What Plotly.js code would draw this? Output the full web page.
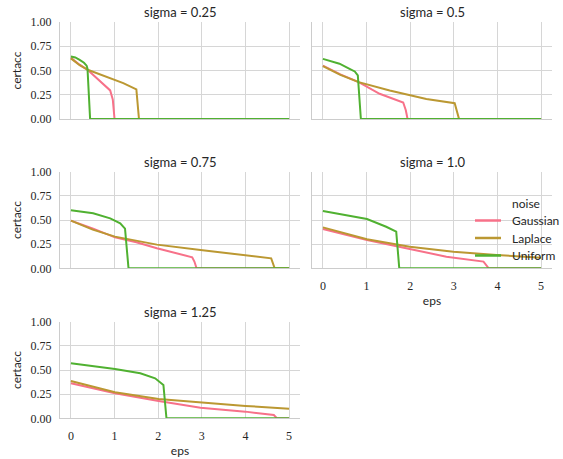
<!DOCTYPE html>
<html>
<head>
<meta charset="utf-8">
<script src="https://cdn.plot.ly/plotly-3.0.1.min.js"></script>
<style>html,body{margin:0;padding:0;background:#fff;}#chart{width:563px;height:459px;}</style>
</head>
<body>
<div id="chart"></div>
<script>
// ---- data ----
const sigmaLabels = ["0.25", "0.5", "0.75", "1.0", "1.25"];
const noiseNames = ["Gaussian", "Laplace", "Uniform"];
const noiseColors = ["#f77189", "#bb9832", "#50b131"];
const legendTitle = "noise";
const xTicks = [0, 1, 2, 3, 4, 5];
const yTicks = [0, 0.25, 0.5, 0.75, 1.0];

// sigma = 0.25
const gauss025Eps = [0, 0.2, 0.4, 0.6, 0.8, 0.9, 0.96, 1.0, 5];
const gauss025Acc = [0.63, 0.56, 0.50, 0.42, 0.345, 0.295, 0.20, 0, 0];
const lap025Eps = [0, 0.1, 0.2, 0.4, 0.8, 1.2, 1.5, 1.56, 5];
const lap025Acc = [0.625, 0.585, 0.555, 0.505, 0.44, 0.37, 0.305, 0, 0];
const uni025Eps = [0, 0.1, 0.2, 0.3, 0.36, 0.38, 0.44, 5];
const uni025Acc = [0.645, 0.635, 0.61, 0.58, 0.55, 0.52, 0, 0];

// sigma = 0.5
const gauss05Eps = [0, 0.4, 0.82, 1.3, 1.84, 1.9, 1.94, 5];
const gauss05Acc = [0.55, 0.46, 0.38, 0.26, 0.17, 0.09, 0, 0];
const lap05Eps = [0, 0.4, 0.82, 1.53, 2.37, 3.02, 3.12, 5];
const lap05Acc = [0.545, 0.455, 0.38, 0.293, 0.207, 0.163, 0, 0];
const uni05Eps = [0, 0.38, 0.6, 0.73, 0.80, 0.87, 5];
const uni05Acc = [0.62, 0.57, 0.52, 0.49, 0.45, 0, 0];

// sigma = 0.75
const gauss075Eps = [0, 0.51, 1.01, 1.5, 1.97, 2.4, 2.78, 2.83, 2.88, 5];
const gauss075Acc = [0.493, 0.41, 0.32, 0.27, 0.207, 0.16, 0.114, 0.07, 0, 0];
const lap075Eps = [0, 0.5, 1.01, 1.97, 2.97, 3.96, 4.59, 4.67, 5];
const lap075Acc = [0.493, 0.40, 0.328, 0.245, 0.19, 0.14, 0.103, 0, 0];
const uni075Eps = [0, 0.51, 0.9, 1.13, 1.24, 1.32, 5];
const uni075Acc = [0.60, 0.57, 0.517, 0.466, 0.41, 0, 0];

// sigma = 1.0
const gauss10Eps = [0, 1.01, 1.99, 2.83, 3.68, 3.75, 3.8, 5];
const gauss10Acc = [0.407, 0.293, 0.20, 0.12, 0.069, 0.034, 0, 0];
const lap10Eps = [0, 1.01, 1.99, 2.99, 3.98, 5];
const lap10Acc = [0.424, 0.30, 0.224, 0.172, 0.138, 0.11];
const uni10Eps = [0, 1.01, 1.45, 1.68, 1.75, 5];
const uni10Acc = [0.593, 0.51, 0.43, 0.38, 0, 0];

// sigma = 1.25
const gauss125Eps = [0, 1.01, 2.01, 2.97, 4.0, 4.65, 4.72, 5];
const gauss125Acc = [0.362, 0.259, 0.179, 0.11, 0.069, 0.034, 0, 0];
const lap125Eps = [0, 1.01, 2.01, 2.97, 4.0, 5];
const lap125Acc = [0.386, 0.269, 0.20, 0.162, 0.128, 0.10];
const uni125Eps = [0, 1.01, 1.59, 1.93, 2.12, 2.19, 5];
const uni125Acc = [0.569, 0.51, 0.466, 0.414, 0.345, 0, 0];

const panels = [
  [[gauss025Eps, gauss025Acc], [lap025Eps, lap025Acc], [uni025Eps, uni025Acc]],
  [[gauss05Eps, gauss05Acc], [lap05Eps, lap05Acc], [uni05Eps, uni05Acc]],
  [[gauss075Eps, gauss075Acc], [lap075Eps, lap075Acc], [uni075Eps, uni075Acc]],
  [[gauss10Eps, gauss10Acc], [lap10Eps, lap10Acc], [uni10Eps, uni10Acc]],
  [[gauss125Eps, gauss125Acc], [lap125Eps, lap125Acc], [uni125Eps, uni125Acc]]
];

// ---- layout ----
const W = 563, H = 459;
const colDom = [[60 / W, 300 / W], [312 / W, 552 / W]];
const rowDom = [[1 - 119 / H, 1 - 22 / H], [1 - 268.3 / H, 1 - 171.7 / H], [1 - 418.3 / H, 1 - 321.7 / H]];
const pos = [[0, 0], [0, 1], [1, 0], [1, 1], [2, 0]];
const showXLabels = [false, false, false, true, true];
const showYLabels = [true, false, true, false, true];

const textColor = "#262626";
const serif = "Liberation Serif, DejaVu Serif, serif";
const sans = "Lato, Open Sans, DejaVu Sans, sans-serif";

const traces = [];
panels.forEach((series, p) => {
  const sfx = p === 0 ? "" : String(p + 1);
  series.forEach((s, k) => {
    traces.push({
      type: "scatter", mode: "lines",
      x: s[0], y: s[1],
      xaxis: "x" + sfx, yaxis: "y" + sfx,
      name: noiseNames[k],
      showlegend: false,
      line: {color: noiseColors[k], width: 2},
      hoverinfo: "skip"
    });
  });
});

const layout = {
  width: W, height: H,
  margin: {l: 0, r: 0, t: 0, b: 0},
  paper_bgcolor: "#fff", plot_bgcolor: "#fff",
  font: {family: sans, size: 12, color: textColor},
  showlegend: false,
  annotations: [],
  shapes: []
};

pos.forEach((rc, p) => {
  const sfx = p === 0 ? "" : String(p + 1);
  const [r, c] = rc;
  layout["xaxis" + sfx] = {
    domain: colDom[c], anchor: "y" + sfx,
    range: [-0.25, 5.25], tickvals: xTicks, ticktext: xTicks.map(String),
    showticklabels: showXLabels[p],
    ticks: "outside", ticklen: 6, tickcolor: "rgba(0,0,0,0)",
    tickfont: {family: serif, size: 12, color: textColor},
    showgrid: true, gridcolor: "#d6d6d6", gridwidth: 1,
    showline: true, linecolor: "#cccccc", linewidth: 1,
    zeroline: false, fixedrange: true,
    title: showXLabels[p] ? {text: "eps", standoff: 4, font: {family: sans, size: 12, color: textColor}} : {text: ""}
  };
  layout["yaxis" + sfx] = {
    domain: rowDom[r], anchor: "x" + sfx,
    range: [0, 1], tickvals: yTicks, ticktext: yTicks.map(v => v.toFixed(2)),
    showticklabels: showYLabels[p],
    ticks: "outside", ticklen: 5, tickcolor: "rgba(0,0,0,0)",
    tickfont: {family: serif, size: 12, color: textColor},
    showgrid: true, gridcolor: "#d6d6d6", gridwidth: 1,
    showline: true, linecolor: "#cccccc", linewidth: 1,
    zeroline: false, fixedrange: true,
    title: showYLabels[p] ? {text: "certacc", standoff: 6, font: {family: sans, size: 12, color: textColor}} : {text: ""}
  };
  layout.annotations.push({
    xref: "paper", yref: "paper",
    x: (colDom[c][0] + colDom[c][1]) / 2, y: rowDom[r][1] + 10 / H,
    xanchor: "center", yanchor: "middle",
    text: "sigma = " + sigmaLabels[p], showarrow: false,
    font: {family: sans, size: 13, color: textColor}
  });
});

// ---- legend (drawn on top of the sigma = 1.0 panel) ----
const legX0 = 475 / W, legX1 = 501 / W, legTextX = 510 / W;
const legTitleY = 1 - 203.5 / H;
const legRowY = [1 - 220.5 / H, 1 - 238 / H, 1 - 255.5 / H];
layout.annotations.push({
  xref: "paper", yref: "paper", x: legTextX, y: legTitleY,
  xanchor: "left", yanchor: "middle", showarrow: false,
  text: legendTitle, font: {family: sans, size: 12, color: textColor}
});
noiseNames.forEach((n, k) => {
  layout.shapes.push({
    type: "line", xref: "paper", yref: "paper",
    x0: legX0, x1: legX1, y0: legRowY[k], y1: legRowY[k],
    line: {color: noiseColors[k], width: 2.5}, layer: "above"
  });
  layout.annotations.push({
    xref: "paper", yref: "paper", x: legTextX, y: legRowY[k],
    xanchor: "left", yanchor: "middle", showarrow: false,
    text: n, font: {family: sans, size: 12, color: textColor}
  });
});

Plotly.newPlot("chart", traces, layout, {staticPlot: true, displayModeBar: false});
</script>
</body>
</html>
